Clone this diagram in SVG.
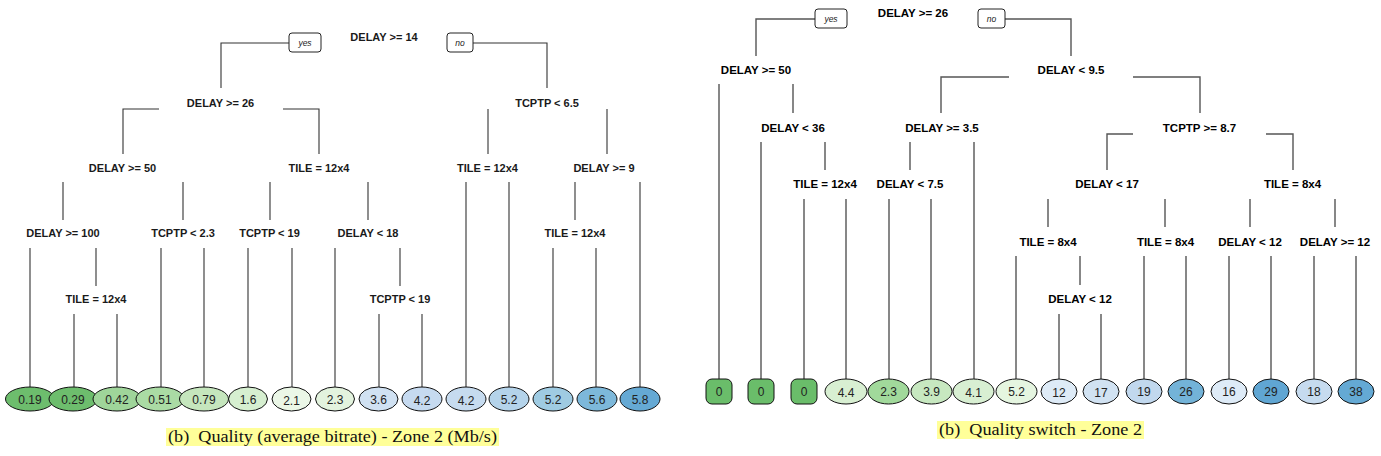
<svg xmlns="http://www.w3.org/2000/svg" width="1381" height="456" viewBox="0 0 1381 456">
<style>
.bg{fill:#ffffff}
.lbl{font-family:"Liberation Sans",Arial,sans-serif;font-weight:bold;font-size:11px;fill:#1a1a1a;text-anchor:middle}
.lbl2{font-family:"Liberation Sans",Arial,sans-serif;font-weight:bold;font-size:11.5px;fill:#000;text-anchor:middle}
.yn{font-family:"Liberation Sans",Arial,sans-serif;font-style:italic;font-size:8.5px;fill:#222;text-anchor:middle}
.ynbox{fill:#fff;stroke:#222;stroke-width:1}
.leaf{stroke:#111;stroke-width:1}
.lt{font-family:"Liberation Sans",Arial,sans-serif;font-size:12px;fill:#222;text-anchor:middle}
.c1{fill:none;stroke:#333;stroke-width:1.1}
.c2{fill:none;stroke:#555;stroke-width:1.4}
.cap{font-family:"Liberation Serif","Times New Roman",serif;font-size:16px;fill:#111;white-space:pre}
.hl{fill:#ffff99}
</style>
<rect class="bg" x="0" y="0" width="1381" height="456"/>

<g id="connectors-left">
<path class="c1" d="M289,43H221V88"/>
<path class="c1" d="M473,43H547V88"/>
<path class="c1" d="M159,109H123V154"/>
<path class="c1" d="M283,109H319V154"/>
<path class="c1" d="M488,109V154"/>
<path class="c1" d="M607,109V154"/>
<path class="c1" d="M63,182V220M183,182V220M270,182V220M368,182V220"/>
<path class="c1" d="M466,182V387M509,182V387M575,182V220M640,182V387"/>
<path class="c1" d="M30,248V387M96,248V286M161,248V387M204,248V387M248,248V387M292,248V387M335,248V387M400,248V286M553,248V387M596,248V387"/>
<path class="c1" d="M74,314V387M117,314V387M379,314V387M422,314V387"/>
</g>

<g id="connectors-right">
<path class="c2" d="M815,19H756V56"/>
<path class="c2" d="M1005,19H1071V56"/>
<path class="c2" d="M719,84V379M793,84V113"/>
<path class="c2" d="M1009,77H941V113"/>
<path class="c2" d="M1133,77H1200V113"/>
<path class="c2" d="M761,142V379M825,142V170M910,142V170M974,142V379"/>
<path class="c2" d="M1133,134H1107V170"/>
<path class="c2" d="M1266,134H1293V170"/>
<path class="c2" d="M804,199V379M846,199V379M889,199V379M931,199V379"/>
<path class="c2" d="M1048,199V227M1165,199V227M1250,199V227M1335,199V227"/>
<path class="c2" d="M1016,256V379M1080,256V285M1144,256V379M1186,256V379M1229,256V379M1271,256V379M1314,256V379M1356,256V379"/>
<path class="c2" d="M1059,314V379M1101,314V379"/>
</g>

<!-- Left tree nodes -->
<g id="L-root"><text class="lbl" x="384" y="41">DELAY &gt;= 14</text></g>
<g id="L-yes"><rect class="ynbox" x="289" y="33" width="32" height="19" rx="3"/><text class="yn" x="305" y="46">yes</text></g>
<g id="L-no"><rect class="ynbox" x="447" y="33" width="26" height="19" rx="3"/><text class="yn" x="460" y="46">no</text></g>
<g id="L-n2"><text class="lbl" x="220.5" y="107">DELAY &gt;= 26</text></g>
<g id="L-n3"><text class="lbl" x="547" y="107">TCPTP &lt; 6.5</text></g>
<g id="L-n4"><text class="lbl" x="122.5" y="172">DELAY &gt;= 50</text></g>
<g id="L-n5"><text class="lbl" x="319" y="172">TILE = 12x4</text></g>
<g id="L-n6"><text class="lbl" x="487.5" y="172">TILE = 12x4</text></g>
<g id="L-n7"><text class="lbl" x="604" y="172">DELAY &gt;= 9</text></g>
<g id="L-n8"><text class="lbl" x="63" y="237">DELAY &gt;= 100</text></g>
<g id="L-n9"><text class="lbl" x="183" y="237">TCPTP &lt; 2.3</text></g>
<g id="L-n10"><text class="lbl" x="269.5" y="237">TCPTP &lt; 19</text></g>
<g id="L-n11"><text class="lbl" x="368" y="237">DELAY &lt; 18</text></g>
<g id="L-n12"><text class="lbl" x="575" y="237">TILE = 12x4</text></g>
<g id="L-n13"><text class="lbl" x="96" y="303">TILE = 12x4</text></g>
<g id="L-n14"><text class="lbl" x="400" y="303">TCPTP &lt; 19</text></g>

<!-- Left leaves -->
<g id="L-leaf1"><ellipse class="leaf" cx="30" cy="399" rx="24.5" ry="12" fill="#6dbd6d"/><text class="lt" x="30" y="403.5">0.19</text></g>
<g id="L-leaf2"><ellipse class="leaf" cx="73" cy="399" rx="24" ry="12" fill="#6dbd6d"/><text class="lt" x="73" y="403.5">0.29</text></g>
<g id="L-leaf3"><ellipse class="leaf" cx="117" cy="399" rx="24" ry="12" fill="#9fd59a"/><text class="lt" x="117" y="403.5">0.42</text></g>
<g id="L-leaf4"><ellipse class="leaf" cx="160" cy="399" rx="24" ry="12" fill="#aadba4"/><text class="lt" x="160" y="403.5">0.51</text></g>
<g id="L-leaf5"><ellipse class="leaf" cx="204" cy="399" rx="24.5" ry="12" fill="#c5e6bd"/><text class="lt" x="204" y="403.5">0.79</text></g>
<g id="L-leaf6"><ellipse class="leaf" cx="248" cy="399" rx="19.5" ry="12" fill="#d6efd0"/><text class="lt" x="248" y="403.5">1.6</text></g>
<g id="L-leaf7"><ellipse class="leaf" cx="291.5" cy="399" rx="19.5" ry="12" fill="#ebf7e7"/><text class="lt" x="291.5" y="404.5">2.1</text></g>
<g id="L-leaf8"><ellipse class="leaf" cx="335" cy="399" rx="19.5" ry="12" fill="#e3f3de"/><text class="lt" x="335" y="403.5">2.3</text></g>
<g id="L-leaf9"><ellipse class="leaf" cx="378.5" cy="399" rx="19.5" ry="12" fill="#d0e1f2"/><text class="lt" x="378.5" y="403.5">3.6</text></g>
<g id="L-leaf10"><ellipse class="leaf" cx="422" cy="399" rx="20" ry="12" fill="#c6daf0"/><text class="lt" x="422" y="404.5">4.2</text></g>
<g id="L-leaf11"><ellipse class="leaf" cx="466" cy="399" rx="20" ry="12" fill="#c6dbef"/><text class="lt" x="466" y="404.5">4.2</text></g>
<g id="L-leaf12"><ellipse class="leaf" cx="509" cy="399" rx="20" ry="12" fill="#b4d3ea"/><text class="lt" x="509" y="403.5">5.2</text></g>
<g id="L-leaf13"><ellipse class="leaf" cx="553" cy="399" rx="20" ry="12" fill="#9fcbe2"/><text class="lt" x="553" y="403.5">5.2</text></g>
<g id="L-leaf14"><ellipse class="leaf" cx="597" cy="399" rx="20" ry="12" fill="#7db8da"/><text class="lt" x="597" y="403.5">5.6</text></g>
<g id="L-leaf15"><ellipse class="leaf" cx="640" cy="399" rx="20" ry="12" fill="#65a9d4"/><text class="lt" x="640" y="403.5">5.8</text></g>

<!-- Right tree nodes -->
<g id="R-root"><text class="lbl2" x="913" y="17">DELAY &gt;= 26</text></g>
<g id="R-yes"><rect class="ynbox" x="815" y="9" width="32" height="19" rx="3"/><text class="yn" x="831" y="22">yes</text></g>
<g id="R-no"><rect class="ynbox" x="978" y="9" width="27" height="19" rx="3"/><text class="yn" x="991.5" y="22">no</text></g>
<g id="R-n2"><text class="lbl2" x="756" y="74">DELAY &gt;= 50</text></g>
<g id="R-n3"><text class="lbl2" x="1071" y="74">DELAY &lt; 9.5</text></g>
<g id="R-n4"><text class="lbl2" x="793" y="132">DELAY &lt; 36</text></g>
<g id="R-n5"><text class="lbl2" x="942" y="132">DELAY &gt;= 3.5</text></g>
<g id="R-n6"><text class="lbl2" x="1199.5" y="132">TCPTP &gt;= 8.7</text></g>
<g id="R-n7"><text class="lbl2" x="825" y="188">TILE = 12x4</text></g>
<g id="R-n8"><text class="lbl2" x="910" y="188">DELAY &lt; 7.5</text></g>
<g id="R-n9"><text class="lbl2" x="1107" y="188">DELAY &lt; 17</text></g>
<g id="R-n10"><text class="lbl2" x="1292.5" y="188">TILE = 8x4</text></g>
<g id="R-n11"><text class="lbl2" x="1048" y="246">TILE = 8x4</text></g>
<g id="R-n12"><text class="lbl2" x="1165.5" y="246">TILE = 8x4</text></g>
<g id="R-n13"><text class="lbl2" x="1250" y="246">DELAY &lt; 12</text></g>
<g id="R-n14"><text class="lbl2" x="1335" y="246">DELAY &gt;= 12</text></g>
<g id="R-n15"><text class="lbl2" x="1080" y="303">DELAY &lt; 12</text></g>

<!-- Right leaves -->
<g id="R-leaf1"><rect class="leaf" x="706" y="379" width="26" height="25" rx="6" fill="#6abd6a"/><text class="lt" x="719" y="395.5">0</text></g>
<g id="R-leaf2"><rect class="leaf" x="748" y="379" width="26" height="25" rx="6" fill="#6abd6a"/><text class="lt" x="761" y="395.5">0</text></g>
<g id="R-leaf3"><rect class="leaf" x="791" y="379" width="26" height="25" rx="6" fill="#6abd6a"/><text class="lt" x="804" y="395.5">0</text></g>
<g id="R-leaf4"><ellipse class="leaf" cx="846" cy="391.5" rx="21" ry="12.5" fill="#d8efd2"/><text class="lt" x="846" y="396.5">4.4</text></g>
<g id="R-leaf5"><ellipse class="leaf" cx="888.5" cy="391.5" rx="20.5" ry="12.5" fill="#a1d99b"/><text class="lt" x="888.5" y="395.5">2.3</text></g>
<g id="R-leaf6"><ellipse class="leaf" cx="931.5" cy="391.5" rx="20.5" ry="12.5" fill="#c7e8c0"/><text class="lt" x="931.5" y="395.5">3.9</text></g>
<g id="R-leaf7"><ellipse class="leaf" cx="973.5" cy="391.5" rx="20.5" ry="12.5" fill="#d8efd2"/><text class="lt" x="973.5" y="396.5">4.1</text></g>
<g id="R-leaf8"><ellipse class="leaf" cx="1016.5" cy="391.5" rx="20.5" ry="12.5" fill="#e5f5e0"/><text class="lt" x="1016.5" y="395.5">5.2</text></g>
<g id="R-leaf9"><ellipse class="leaf" cx="1059" cy="391.5" rx="18" ry="12.5" fill="#deebf7"/><text class="lt" x="1059" y="396.5">12</text></g>
<g id="R-leaf10"><ellipse class="leaf" cx="1101" cy="391.5" rx="18" ry="12.5" fill="#d1e2f2"/><text class="lt" x="1101" y="396.5">17</text></g>
<g id="R-leaf11"><ellipse class="leaf" cx="1144" cy="391.5" rx="18" ry="12.5" fill="#c1d8ee"/><text class="lt" x="1144" y="395.5">19</text></g>
<g id="R-leaf12"><ellipse class="leaf" cx="1186" cy="391.5" rx="18" ry="12.5" fill="#73b3d8"/><text class="lt" x="1186" y="395.5">26</text></g>
<g id="R-leaf13"><ellipse class="leaf" cx="1229" cy="391.5" rx="18" ry="12.5" fill="#deebf7"/><text class="lt" x="1229" y="395.5">16</text></g>
<g id="R-leaf14"><ellipse class="leaf" cx="1271" cy="391.5" rx="18" ry="12.5" fill="#60a6d3"/><text class="lt" x="1271" y="395.5">29</text></g>
<g id="R-leaf15"><ellipse class="leaf" cx="1314" cy="391.5" rx="18" ry="12.5" fill="#c6dbef"/><text class="lt" x="1314" y="395.5">18</text></g>
<g id="R-leaf16"><ellipse class="leaf" cx="1356" cy="391.5" rx="18" ry="12.5" fill="#64a9d4"/><text class="lt" x="1356" y="395.5">38</text></g>

<!-- Captions -->
<g id="caption-left"><rect class="hl" x="166" y="428" width="333" height="18"/><text class="cap" x="168" y="442" textLength="329" lengthAdjust="spacingAndGlyphs">(b)  Quality (average bitrate) - Zone 2 (Mb/s)</text></g>
<g id="caption-right"><rect class="hl" x="937" y="421" width="207" height="18"/><text class="cap" x="939" y="435" textLength="203" lengthAdjust="spacingAndGlyphs">(b)  Quality switch - Zone 2</text></g>
</svg>
